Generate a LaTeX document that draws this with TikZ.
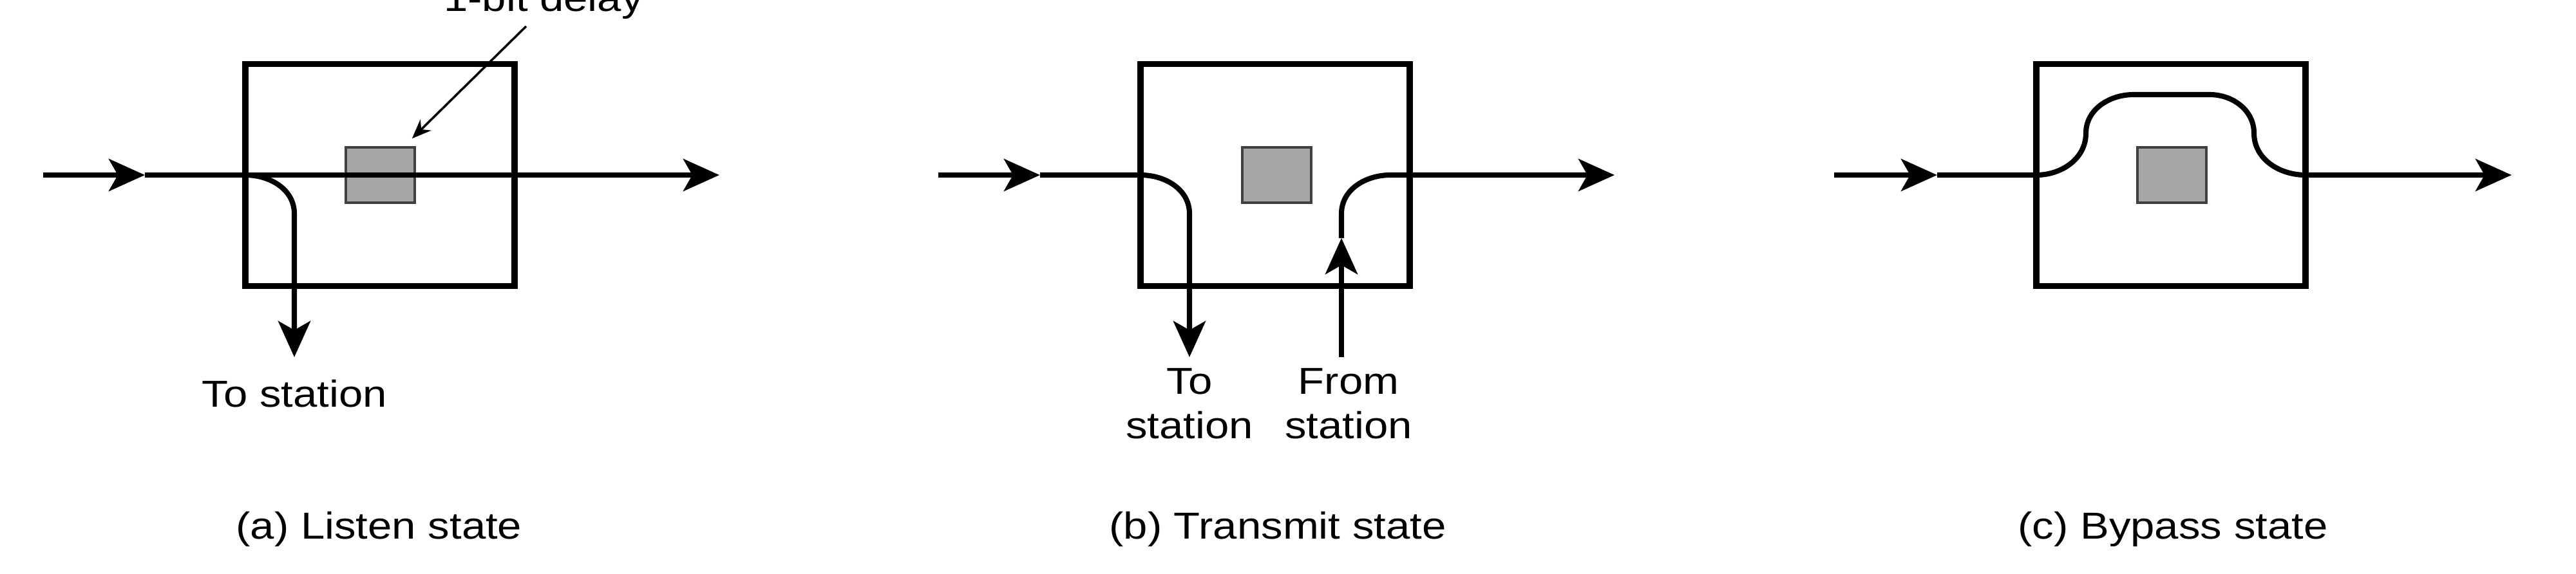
\documentclass[tikz,border=0pt]{standalone}
\usepackage{fontspec}
\setmainfont{Liberation Sans}[FakeStretch=1.15]
\usetikzlibrary{arrows.meta}

\definecolor{delayfill}{RGB}{166,166,166}
\definecolor{delayedge}{RGB}{64,64,64}

\begin{document}
\begin{tikzpicture}[
    ring/.style={line width=2.3pt},
    flow/.style={ring,-{Stealth[length=5.6mm,width=5mm,inset=1.4mm]}},
    stationbox/.style={draw,line width=2.6pt,minimum width=4.18cm,minimum height=3.45cm,inner sep=0pt,outer sep=0pt},
    delaybox/.style={draw=delayedge,fill=delayfill,line width=1pt,minimum width=1.07cm,minimum height=0.86cm,inner sep=0pt},
    pointer/.style={line width=1pt,-{Stealth[length=3mm,width=2.4mm]}},
    txt/.style={font=\fontsize{16.6}{19.6}\selectfont,inner sep=0pt}
  ]
    \useasboundingbox (0,0) rectangle (40,8.91);

    \node[stationbox] (box-a) at (5.90,6.19) {};
    \node[stationbox] (box-b) at (19.80,6.19) {};
    \node[stationbox] (box-c) at (33.71,6.19) {};

    \node[delaybox] (dly-a) at (5.905,6.19) {};
    \node[delaybox] (dly-b) at (19.825,6.19) {};
    \node[delaybox] (dly-c) at (33.725,6.19) {};

    % (a) listen
    \coordinate (a-in) at (0.67,6.19);
    \coordinate (a-mid) at (2.25,6.19);
    \coordinate (a-out) at (11.17,6.19);
    \coordinate (a-bend) at (4.57,5.59);
    \coordinate (a-to) at (4.57,3.36);

    \draw[flow] (a-in) -- (a-mid);
    \draw[flow] (a-mid) -- (a-out);
    \draw[flow] (box-a.west) to[out=0,in=90] (a-bend) -- (a-to);

    % (b) transmit
    \coordinate (b-in) at (14.57,6.19);
    \coordinate (b-mid) at (16.15,6.19);
    \coordinate (b-bend) at (18.47,5.59);
    \coordinate (b-to) at (18.47,3.36);
    \coordinate (b-from) at (20.83,3.36);
    \coordinate (b-up) at (20.83,5.21);
    \coordinate (b-rise) at (20.83,5.59);
    \coordinate (b-join) at (21.59,6.19);
    \coordinate (b-out) at (25.07,6.19);

    \draw[flow] (b-in) -- (b-mid);
    \draw[flow] (b-mid) -- (box-b.west) to[out=0,in=90] (b-bend) -- (b-to);
    \draw[flow] (b-from) -- (b-up);
    \draw[flow] (b-up) -- (b-rise) to[out=90,in=180] (b-join) -- (b-out);

    % (c) bypass
    \coordinate (c-in) at (28.48,6.19);
    \coordinate (c-mid) at (30.08,6.19);
    \coordinate (c-l) at (32.39,6.84);
    \coordinate (c-tl) at (33.13,7.44);
    \coordinate (c-tr) at (34.31,7.44);
    \coordinate (c-r) at (35.00,6.84);
    \coordinate (c-out) at (39.00,6.19);

    \draw[flow] (c-in) -- (c-mid);
    \draw[flow] (c-mid) -- (box-c.west)
        to[out=0,in=-90] (c-l) to[out=90,in=180] (c-tl)
        -- (c-tr) to[out=0,in=90] (c-r) to[out=-90,in=180] (box-c.east)
        -- (c-out);

    \node[txt,anchor=base] (delay-lbl) at (8.44,8.74) {1-bit delay};
    \draw[pointer] ([xshift=-2.7mm,yshift=-1.1mm]delay-lbl.south)
        -- ([xshift=-0.6mm,yshift=1.2mm]dly-a.north east);

    \node[txt,anchor=base] (a-to-lbl) at (4.575,2.59) {To station};
    \node[txt,anchor=north,align=center] (b-to-lbl) at (18.47,3.19) {To\\station};
    \node[txt,anchor=north,align=center] (b-from-lbl) at (20.94,3.19) {From\\station};

    \node[txt,anchor=base] (a-cap) at (5.885,0.54) {(a) Listen state};
    \node[txt,anchor=base] (b-cap) at (19.84,0.54) {(b) Transmit state};
    \node[txt,anchor=base] (c-cap) at (33.74,0.54) {(c) Bypass state};
\end{tikzpicture}
\end{document}
